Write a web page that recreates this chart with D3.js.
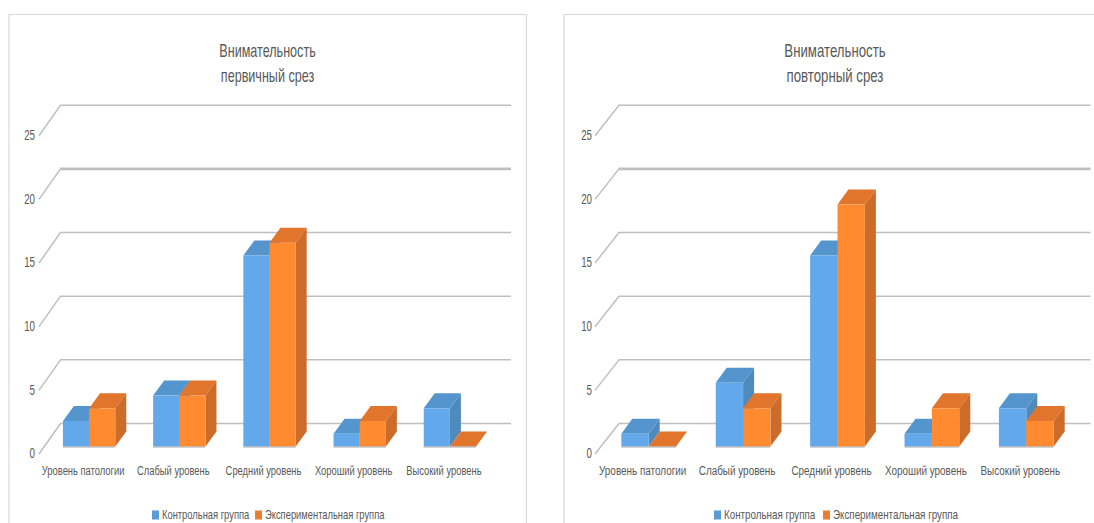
<!DOCTYPE html>
<html>
<head>
<meta charset="utf-8">
<script src="https://cdn.jsdelivr.net/npm/d3@7/dist/d3.min.js"></script>
<style>
html,body{margin:0;padding:0;background:#fff;overflow:hidden}
text{font-family:"Liberation Sans",sans-serif;fill:#595959}
</style>
</head>
<body>
<svg id="chart" width="1094" height="523"></svg>
<script>
const categories = ["Уровень патологии", "Слабый уровень", "Средний уровень", "Хороший уровень", "Высокий уровень"];
const seriesNames = ["Контрольная группа", "Экспериментальная группа"];
const yTicks = [0, 5, 10, 15, 20, 25];
const firstControl = [2, 4, 15, 1, 3];
const firstExperimental = [3, 4, 16, 2, 0];
const repeatControl = [1, 5, 15, 1, 3];
const repeatExperimental = [0, 3, 19, 3, 2];

const palette = [
  {front: "#62a8ea", top: "#5595cd", side: "#4f8abd"},
  {front: "#ff8a30", top: "#e2752c", side: "#cc6c2a"}
];

// Depth of the 3D box, in pixels
const depth = {x: 11, y: 15};

const panels = [
  {title: ["Внимательность", "первичный срез"], titleX: 267.5, values: [firstControl, firstExperimental],
   frame: [9, 526.5], bandRange: [44, 495], wallX: [39, 60.5], gridEnd: 511,
   tickX: 35, legendX: [152, 255], squeeze: {title: 0.70, cat: 0.694, legend: 0.75}},
  {title: ["Внимательность", "повторный срез"], titleX: 835, values: [repeatControl, repeatExperimental],
   frame: [564, null], bandRange: [601.5, 1073.5], wallX: [595, 619], gridEnd: 1090.5,
   tickX: 592, legendX: [714, 823], squeeze: {title: 0.735, cat: 0.735, legend: 0.785}}
];

const svg = d3.select("#chart");

// The installed sans is wider than this chart's condensed lettering, so glyphs are narrowed
function narrow(sel, factor) {
  sel.each(function () {
    const t = d3.select(this);
    const x = +t.attr("x") || 0;
    t.attr("x", 0).attr("transform", `translate(${x},0) scale(${factor},1)`);
  });
}

// Front plane for bars, back wall for grid lines, and the tick label plane
const yBar = d3.scaleLinear().domain([0, 25]).range([446.5, 128.2]);
const yBack = d3.scaleLinear().domain([0, 25]).range([423.5, 105.2]);
const yLabel = d3.scaleLinear().domain([0, 25]).range([454, 135.7]);

panels.forEach(p => {
  const g = svg.append("g");

  // Panel border, open at the bottom
  const border = p.frame[1] === null
    ? `M${p.frame[0]},523V14.5H1094`
    : `M${p.frame[0]},523V14.5H${p.frame[1]}V523`;
  g.append("path").attr("d", border).attr("fill", "none").attr("stroke", "#d9d9d9").attr("stroke-width", 1.2);

  // Title
  p.title.forEach((line, i) => {
    g.append("text").attr("x", p.titleX).attr("y", 57 + i * 25)
      .attr("text-anchor", "middle").attr("font-size", 18).text(line)
      .call(narrow, p.squeeze.title);
  });

  // Grid lines on the back wall with their slanted side-wall segments
  yTicks.forEach(t => {
    g.append("line")
      .attr("x1", p.wallX[0]).attr("y1", yLabel(t)).attr("x2", p.wallX[1]).attr("y2", yBack(t))
      .attr("stroke", "#bfbfbf").attr("stroke-width", 1.5);
    g.append("line")
      .attr("x1", p.wallX[1] - 0.5).attr("y1", yBack(t)).attr("x2", p.gridEnd).attr("y2", yBack(t))
      .attr("stroke", "#bfbfbf").attr("stroke-width", t === 20 ? 2.6 : 1.5);
  });

  // Value axis labels
  const yAxis = g.append("g").attr("transform", `translate(${p.tickX},-1)`)
    .call(d3.axisLeft(yLabel).tickValues(yTicks).tickSize(0).tickPadding(0));
  yAxis.select(".domain").remove();
  yAxis.selectAll("text").attr("font-size", 15).attr("fill", "#595959")
    .style("font-family", '"Liberation Sans",sans-serif')
    .call(narrow, 0.65);

  // Category and series scales
  const x0 = d3.scaleBand().domain(categories).range(p.bandRange).paddingInner(0.42).paddingOuter(0.21);
  const x1 = d3.scaleBand().domain([0, 1]).range([0, x0.bandwidth()]);

  // Boxes, back to front inside each category
  categories.forEach((cat, ci) => {
    [0, 1].forEach(si => {
      const v = p.values[si][ci];
      const xl = x0(cat) + x1(si), w = x1.bandwidth(), xr = xl + w;
      const yt = yBar(v), yb = yBar(0), c = palette[si];
      const d = depth;
      const box = g.append("g");
      box.append("path").attr("fill", c.top)
        .attr("d", `M${xl},${yt}L${xl + d.x},${yt - d.y}H${xr + d.x}L${xr},${yt}Z`);
      if (v > 0) {
        box.append("path").attr("fill", c.side)
          .attr("d", `M${xr},${yt}L${xr + d.x},${yt - d.y}V${yb - d.y}L${xr},${yb}Z`);
        box.append("rect").attr("x", xl).attr("y", yt).attr("width", w).attr("height", yb - yt).attr("fill", c.front);
      }
      box.append("line").attr("x1", xl).attr("x2", xr).attr("y1", yb + 0.5).attr("y2", yb + 0.5)
        .attr("stroke", "#a6a6a6").attr("stroke-width", 1);
    });
  });

  // Category labels, set slightly left of the box fronts
  const xAxis = g.append("g").attr("transform", "translate(-6,465)")
    .call(d3.axisBottom(x0).tickSize(0).tickPadding(0));
  xAxis.select(".domain").remove();
  xAxis.selectAll("text").attr("font-size", 13.5).attr("fill", "#595959")
    .style("font-family", '"Liberation Sans",sans-serif')
    .call(narrow, p.squeeze.cat);

  // Legend
  seriesNames.forEach((name, i) => {
    g.append("rect").attr("x", p.legendX[i]).attr("y", 510.5).attr("width", 7).attr("height", 9)
      .attr("fill", i === 0 ? "#5b9bd5" : "#ed7d31");
    g.append("text").attr("x", p.legendX[i] + 10).attr("y", 519.5)
      .attr("font-size", 12.5).text(name)
      .call(narrow, p.squeeze.legend);
  });
});
</script>
</body>
</html>
